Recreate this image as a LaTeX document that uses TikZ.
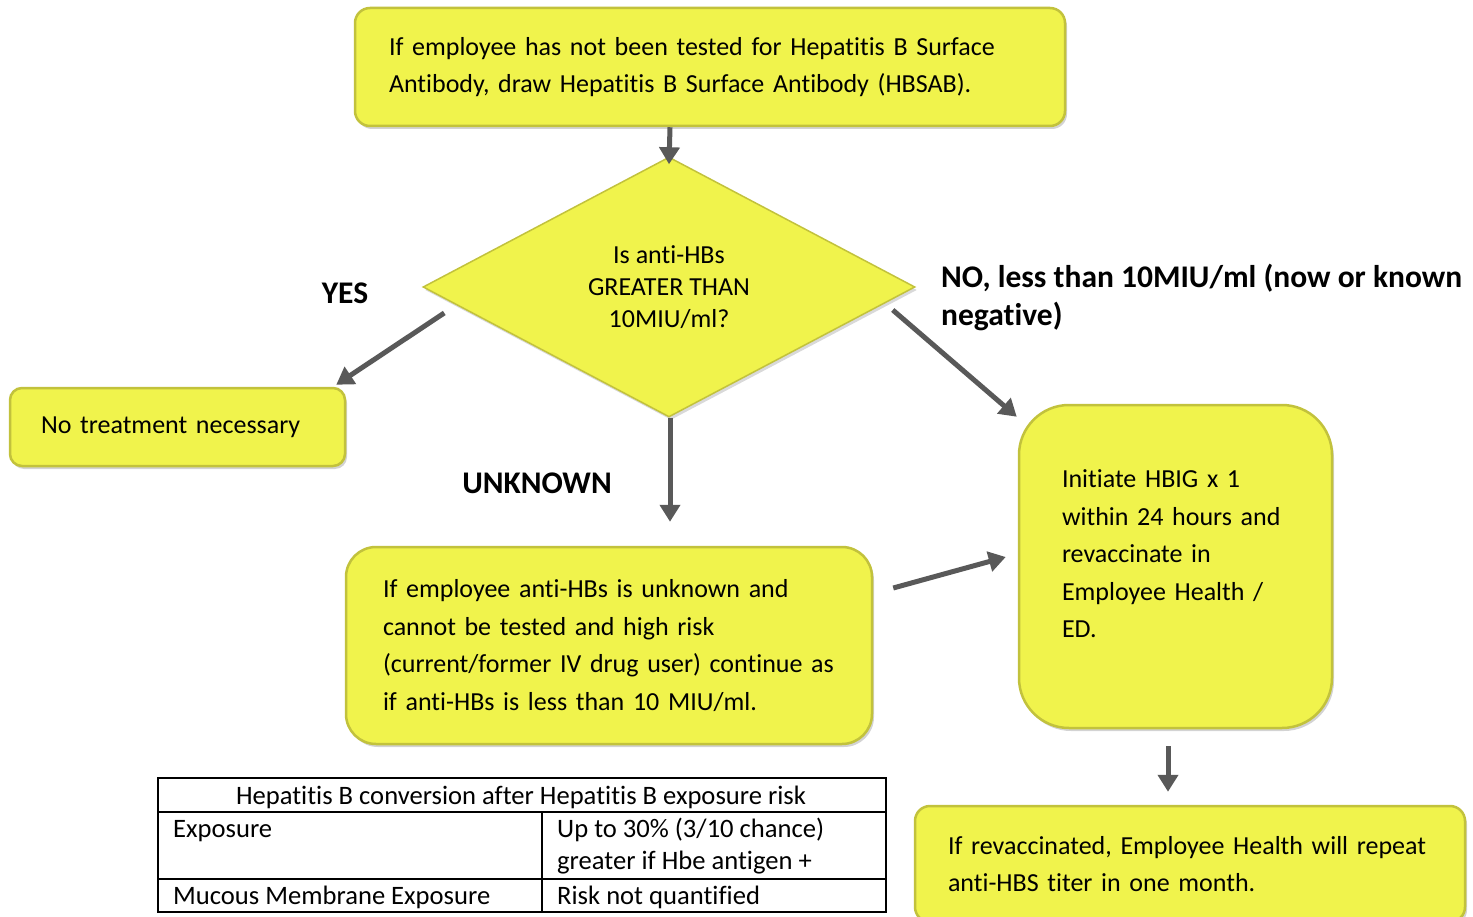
\documentclass[tikz,border=0pt]{standalone}
\usepackage{fontspec}
\setmainfont{Carlito}[Ligatures={NoCommon}]
\usetikzlibrary{arrows.meta,shapes.geometric,shadows,calc}
\definecolor{boxfill}{HTML}{F0F34C}
\definecolor{boxedge}{HTML}{C2C23C}
\definecolor{arrowgray}{HTML}{595959}
\tikzset{
  ybox/.style={draw=boxedge, line width=2.5pt, fill=boxfill, rounded corners=#1,
    drop shadow={opacity=0.35, shadow xshift=2pt, shadow yshift=-3pt},
    align=left, font=\fontsize{26}{37.5}\selectfont, inner ysep=0pt},
  ybox/.default=15pt,
  arr/.style={draw=arrowgray, line width=5pt, -{Triangle[width=20pt,length=17pt]}},
  lbl/.style={font=\fontsize{31.5}{38}\selectfont\bfseries, align=left, inner sep=0pt},
  cell/.style={font=\fontsize{26.6}{32}\selectfont, align=left, inner sep=0pt},
  grid/.style={draw=black, line width=1.5pt},
}
\begin{document}
\begin{tikzpicture}[x=1pt, y=-1pt]
  \useasboundingbox (0,0) rectangle (1473,917);

  % flow boxes
  \node[ybox, minimum width=710, minimum height=118, text width=642, inner xsep=34]
    (top) at (710,67)
    {If employee has not been tested for Hepatitis B Surface\\
     Antibody, draw Hepatitis B Surface Antibody (HBSAB).};

  \node[diamond, draw=boxedge, line width=1.5pt, fill=boxfill,
    drop shadow={opacity=0.3, shadow xshift=2pt, shadow yshift=-3pt},
    minimum width=492, minimum height=260, inner sep=0pt, align=center,
    font=\fontsize{26}{32}\selectfont]
    (dia) at (669,287)
    {Is anti-HBs\\GREATER THAN\\10MIU/ml?};

  \node[ybox=12pt, minimum width=335, minimum height=78, text width=273, inner xsep=31]
    (ntb) at (177.5,427)
    {No treatment necessary};

  \node[ybox=30pt, minimum width=526, minimum height=197, text width=452, inner xsep=37]
    (unk) at (609,645.5)
    {If employee anti-HBs is unknown and\\
     cannot be tested and high risk\\
     (current/former IV drug user) continue as\\
     if anti-HBs is less than 10 MIU/ml.};

  % the empty last line lifts the text block a little above the middle
  \node[ybox=50pt, minimum width=313, minimum height=323, text width=227, inner xsep=43]
    (hbig) at (1175.5,566.5)
    {Initiate HBIG x 1\\
     within 24 hours and\\
     revaccinate in\\
     Employee Health /\\
     ED.\\[-12pt]\mbox{}};

  \node[ybox, minimum width=550, minimum height=116, text width=484, inner xsep=33]
    (bot) at (1190,864)
    {If revaccinated, Employee Health will repeat\\
     anti-HBS titer in one month.};

  % branch labels
  \node[lbl] (yes) at (345,293) {YES};
  \node[lbl] (unknown) at (537,483) {UNKNOWN};
  \node[lbl, anchor=west] (no) at (941,297)
    {NO, less than 10MIU/ml (now or known\\negative)};

  % connectors
  \draw[arr] ([shift={(-40,0)}]top.south) -- ([shift={(0,8)}]dia.north);
  \draw[arr] ([shift={(22,26)}]dia.west) -- ([shift={(-10,-2)}]ntb.north east);
  \draw[arr] ([shift={(-23,23)}]dia.east) -- ([shift={(-1,13)}]hbig.north west);
  \coordinate (downend) at ([shift={(1,104)}]dia.south);
  \draw[arr] ([shift={(1,0)}]dia.south) -- (downend);
  \draw[arr] ([shift={(20,-57.5)}]unk.east) -- ([shift={(-12,-9.5)}]hbig.west);
  \draw[arr] ([shift={(-7.5,17)}]hbig.south) -- ([shift={(-22,-13)}]bot.north);

  % risk table
  \draw[grid] (158,778) rectangle (886,912);
  \draw[grid] (158,812) -- (886,812);
  \draw[grid] (158,879) -- (886,879);
  \draw[grid] (542,812) -- (542,912);
  \node[cell] (thead) at (521,797) {Hepatitis B conversion after Hepatitis B exposure risk};
  \node[cell, anchor=west] (texp) at (173,831) {Exposure};
  \node[cell, anchor=north west] (texprisk) at (557,818)
    {Up to 30\% (3/10 chance)\\greater if Hbe antigen +};
  \node[cell, anchor=west] (tmuc) at (173,897) {Mucous Membrane Exposure};
  \node[cell, anchor=west] (tmucrisk) at (557,897) {Risk not quantified};
\end{tikzpicture}
\end{document}
